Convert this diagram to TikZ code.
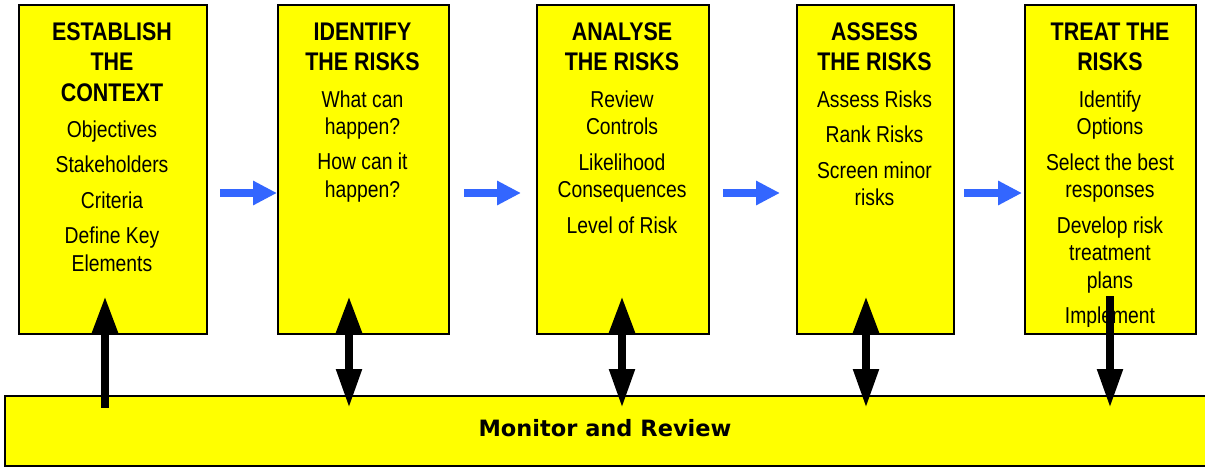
\documentclass[tikz,border=0pt]{standalone}
\usepackage{fontspec}
\setmainfont{Liberation Sans}[FakeStretch=0.84]
\newfontfamily\verdfont{DejaVu Sans}
\usetikzlibrary{arrows.meta}
\definecolor{boxyellow}{RGB}{255,255,0}
\definecolor{flowblue}{RGB}{51,102,255}
\begin{document}
\begin{tikzpicture}[x=1pt,y=-1pt,
  stagebox/.style={draw=black, line width=1.8pt, fill=boxyellow, inner sep=0pt, anchor=north west, minimum height=329pt},
  barbox/.style={draw=black, line width=1.8pt, fill=boxyellow, inner sep=0pt, anchor=north west},
  titletext/.style={font=\fontsize{25.5}{30}\selectfont\bfseries, anchor=base, inner sep=0pt},
  itemtext/.style={font=\fontsize{23}{28}\selectfont, anchor=base, inner sep=0pt},
  bartext/.style={font=\verdfont\fontsize{22.5}{27}\selectfont\bfseries, anchor=base, inner sep=0pt},
  flow/.style={draw=flowblue, line width=8pt, -{Triangle[length=24pt,width=23pt]}},
  link/.style={draw=black, line width=8pt},
  tipup/.style={{Triangle[length=37pt,width=24pt]}-},
  tipdown/.style={-{Triangle[length=39pt,width=24pt]}},
  tipboth/.style={{Triangle[length=37pt,width=24pt]}-{Triangle[length=39pt,width=24pt]}}
]
\useasboundingbox (0,0) rectangle (1205,466);

% stage boxes
\node[stagebox, minimum width=188pt] (b1) at (18,4) {};
\node[stagebox, minimum width=171pt] (b2) at (277,4) {};
\node[stagebox, minimum width=172pt] (b3) at (536,4) {};
\node[stagebox, minimum width=157pt] (b4) at (796,4) {};
\node[stagebox, minimum width=171pt] (b5) at (1024,4) {};

% monitor bar
\node[barbox, minimum width=1210pt, minimum height=70pt] (bar) at (4,395) {};
\node[bartext] (bart) at (605,436) {Monitor and Review};

% box 1 text
\node[titletext] (t1a) at (112,40) {ESTABLISH};
\node[titletext] (t1b) at (112,70.5) {THE};
\node[titletext] (t1c) at (112,101) {CONTEXT};
\node[itemtext] (i1a) at (112,137) {Objectives};
\node[itemtext] (i1b) at (112,172) {Stakeholders};
\node[itemtext] (i1c) at (112,208) {Criteria};
\node[itemtext] (i1d) at (112,243) {Define Key};
\node[itemtext] (i1e) at (112,271) {Elements};

% box 2 text
\node[titletext] (t2a) at (362.5,40) {IDENTIFY};
\node[titletext] (t2b) at (362.5,70.5) {THE RISKS};
\node[itemtext] (i2a) at (362.5,107) {What can};
\node[itemtext] (i2b) at (362.5,134.5) {happen?};
\node[itemtext] (i2c) at (362.5,169.5) {How can it};
\node[itemtext] (i2d) at (362.5,197) {happen?};

% box 3 text
\node[titletext] (t3a) at (622,40) {ANALYSE};
\node[titletext] (t3b) at (622,70.5) {THE RISKS};
\node[itemtext] (i3a) at (622,107) {Review};
\node[itemtext] (i3b) at (622,134.5) {Controls};
\node[itemtext] (i3c) at (622,170) {Likelihood};
\node[itemtext] (i3d) at (622,197.5) {Consequences};
\node[itemtext] (i3e) at (622,233) {Level of Risk};

% box 4 text
\node[titletext] (t4a) at (874.5,40) {ASSESS};
\node[titletext] (t4b) at (874.5,70.5) {THE RISKS};
\node[itemtext] (i4a) at (874.5,107) {Assess Risks};
\node[itemtext] (i4b) at (874.5,142.5) {Rank Risks};
\node[itemtext] (i4c) at (874.5,178) {Screen minor};
\node[itemtext] (i4d) at (874.5,205.5) {risks};

% box 5 text
\node[titletext] (t5a) at (1110,40) {TREAT THE};
\node[titletext] (t5b) at (1110,70.5) {RISKS};
\node[itemtext] (i5a) at (1110,107) {Identify};
\node[itemtext] (i5b) at (1110,134.5) {Options};
\node[itemtext] (i5c) at (1110,170) {Select the best};
\node[itemtext] (i5d) at (1110,197.5) {responses};
\node[itemtext] (i5e) at (1110,233) {Develop risk};
\node[itemtext] (i5f) at (1110,260.5) {treatment};
\node[itemtext] (i5g) at (1110,288) {plans};
\begin{scope}
  \clip (1024,300) rectangle (1195,326);
  \node[itemtext] (i5h) at (1110,323.5) {Implement};
\end{scope}

% blue flow arrows
\coordinate (f1s) at (220,193); \coordinate (f1e) at (277,193);
\coordinate (f2s) at (464,193); \coordinate (f2e) at (521,193);
\coordinate (f3s) at (723,193); \coordinate (f3e) at (780,193);
\coordinate (f4s) at (964,193); \coordinate (f4e) at (1022,193);
\draw[flow] (f1s) -- (f1e);
\draw[flow] (f2s) -- (f2e);
\draw[flow] (f3s) -- (f3e);
\draw[flow] (f4s) -- (f4e);

% black monitor links
\coordinate (m1a) at (105,296); \coordinate (m1b) at (105,408);
\coordinate (m2a) at (349,296); \coordinate (m2b) at (349,408);
\coordinate (m3a) at (622,296); \coordinate (m3b) at (622,408);
\coordinate (m4a) at (866,296); \coordinate (m4b) at (866,408);
\coordinate (m5a) at (1110,296); \coordinate (m5b) at (1110,408);
\draw[link, tipup] (m1a) -- (m1b);
\draw[link, tipboth] (m2a) -- (m2b);
\draw[link, tipboth] (m3a) -- (m3b);
\draw[link, tipboth] (m4a) -- (m4b);
\draw[link, tipdown] (m5a) -- (m5b);
\end{tikzpicture}
\end{document}
